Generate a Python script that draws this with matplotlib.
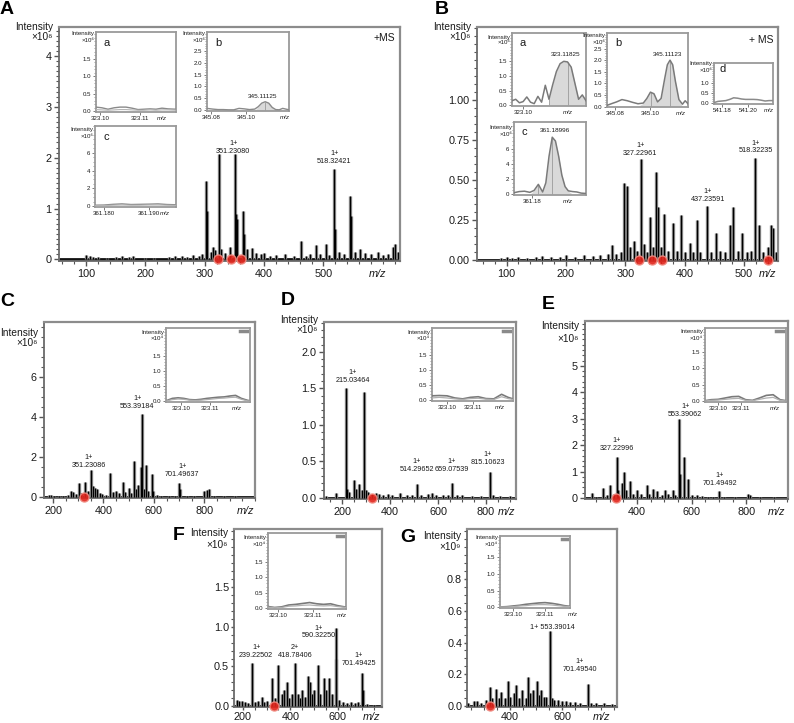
import numpy as np
import matplotlib
matplotlib.use('Agg')
import matplotlib.pyplot as plt
from matplotlib.ticker import MultipleLocator
import matplotlib.transforms as mtransforms

plt.rcParams['font.family'] = ['Liberation Sans', 'DejaVu Sans']

# ---------------- DATA ----------------
# Panel A main spectrum
A_mz = [100, 106, 112, 120, 135, 150, 160, 172, 180, 200, 215, 240, 250, 262, 270, 280, 290, 296,
        302, 304, 310, 314, 318, 324.5, 328, 335, 342.6, 351, 353, 355, 364, 366, 372, 380, 386, 395,
        400, 410, 420, 436, 450, 462, 470, 478, 487.6, 495, 504.5, 510, 518.5, 520, 527, 535, 545, 547,
        553, 562, 570, 580, 592, 600, 608, 617, 620, 625]
A_int = [0.08, 0.06, 0.05, 0.05, 0.03, 0.05, 0.06, 0.05, 0.07, 0.03, 0.03, 0.05, 0.06, 0.06, 0.05, 0.08, 0.06, 0.1,
         1.55, 0.95, 0.15, 0.25, 0.18, 2.07, 0.2, 0.12, 0.25, 2.07, 0.9, 0.8, 0.95, 0.5, 0.2, 0.22, 0.12, 0.1,
         0.12, 0.06, 0.08, 0.1, 0.06, 0.37, 0.07, 0.1, 0.28, 0.1, 0.3, 0.08, 1.78, 0.6, 0.15, 0.1, 1.25, 0.85,
         0.15, 0.2, 0.12, 0.1, 0.15, 0.08, 0.1, 0.25, 0.3, 0.15]
A_dots = [323, 345, 361]

# Panel B main spectrum
B_mz = [90, 100, 110, 120, 135, 150, 160, 175, 190, 200, 215, 230, 245, 258, 270, 277, 285, 292,
        298, 302, 308, 315, 320, 327, 331, 337, 341.6, 346, 351, 355.5, 360, 365.6, 372, 380.7, 387,
        393.7, 400, 408.8, 414, 420, 426, 437, 444, 452, 460, 468, 476, 482, 490, 497, 505, 512, 518,
        525, 532, 540, 546, 548, 553]
B_int = [0.015, 0.02, 0.015, 0.02, 0.015, 0.02, 0.025, 0.02, 0.02, 0.03, 0.02, 0.03, 0.025, 0.03, 0.04, 0.095, 0.04, 0.05,
         0.48, 0.46, 0.08, 0.12, 0.06, 0.63, 0.1, 0.05, 0.27, 0.08, 0.55, 0.33, 0.08, 0.29, 0.06, 0.23, 0.06,
         0.28, 0.05, 0.11, 0.05, 0.25, 0.05, 0.34, 0.05, 0.17, 0.06, 0.05, 0.22, 0.33, 0.06, 0.17, 0.05, 0.06, 0.64,
         0.22, 0.05, 0.08, 0.22, 0.2, 0.05]
B_dots = [323, 345, 361, 541]

# Panel C
C_mz = [185, 192, 205, 222, 240, 258, 271, 278, 290, 302, 312, 326, 338, 351, 358, 366, 376, 385, 395,
        410, 426, 436, 450, 461, 477, 486, 500, 510, 520, 530, 537, 549, 553, 560, 569, 578, 593, 597,
        612, 630, 660, 685, 701, 705, 730, 760, 800, 810, 818, 840, 880, 920, 960]
C_int = [0.12, 0.08, 0.05, 0.05, 0.06, 0.1, 0.3, 0.25, 0.15, 0.7, 0.2, 0.75, 0.3, 1.35, 0.55, 0.45, 0.4, 0.2, 0.15,
         0.1, 1.2, 0.25, 0.3, 0.2, 0.75, 0.25, 0.45, 0.2, 1.8, 0.4, 0.6, 1.5, 4.15, 0.4, 1.6, 0.3, 1.15, 0.3,
         0.08, 0.06, 0.05, 0.05, 0.7, 0.4, 0.05, 0.04, 0.3, 0.35, 0.4, 0.04, 0.03, 0.03, 0.02]

# Panel D
D_mz = [132, 174, 215, 220, 230, 250, 260, 271, 282, 292, 300, 310, 323, 340, 355, 370, 390, 410, 443,
        470, 490, 514, 530, 560, 575, 590, 620, 640, 659, 680, 700, 740, 780, 815, 830, 860, 900]
D_int = [0.02, 0.06, 1.5, 0.12, 0.08, 0.24, 0.12, 0.18, 0.1, 1.45, 0.1, 0.08, 0.05, 0.06, 0.05, 0.04, 0.05, 0.04, 0.06,
         0.04, 0.03, 0.18, 0.04, 0.05, 0.06, 0.04, 0.03, 0.03, 0.2, 0.03, 0.03, 0.02, 0.02, 0.35, 0.03, 0.02, 0.02]

# Panel E
E_mz = [234, 250, 275, 290, 301, 315, 327, 330, 344, 352, 360, 375, 385, 399, 415, 436, 445, 459, 475,
        490, 503, 515, 531, 540, 553, 556, 572, 587, 600, 620, 640, 660, 680, 701, 720, 760, 807, 815,
        850, 900]
E_int = [0.2, 0.05, 0.38, 0.1, 0.5, 0.15, 1.55, 0.3, 0.55, 1.0, 0.3, 0.65, 0.15, 0.3, 0.15, 0.5, 0.15, 0.35, 0.25,
         0.1, 0.3, 0.15, 0.3, 0.1, 3.0, 0.9, 1.55, 0.7, 0.1, 0.1, 0.06, 0.05, 0.04, 0.25, 0.04, 0.03, 0.15, 0.1,
         0.03, 0.02]

# Panel F
F_mz = [175, 185, 195, 210, 222, 239, 250, 262, 280, 290, 300, 322, 335, 350, 365, 372, 385, 395, 405,
        419, 430, 440, 450, 462, 475, 482, 490, 500, 517, 525, 541, 550, 564, 575, 590, 593, 605, 620,
        640, 655, 670, 685, 701, 705, 720, 750]
F_int = [0.08, 0.06, 0.07, 0.05, 0.04, 0.54, 0.05, 0.06, 0.12, 0.05, 0.06, 0.35, 0.1, 0.52, 0.15, 0.2, 0.3, 0.1, 0.15,
         0.55, 0.15, 0.1, 0.2, 0.12, 0.38, 0.3, 0.15, 0.2, 0.52, 0.15, 0.35, 0.2, 0.35, 0.15, 0.98, 0.6, 0.08, 0.05,
         0.04, 0.05, 0.04, 0.05, 0.42, 0.2, 0.03, 0.02]

# Panel G
G_mz = [240, 260, 272, 290, 307, 323, 330, 348, 357, 367, 380, 393, 400, 415, 422, 435, 445, 460, 470,
        478, 490, 504, 512, 520, 530, 540, 553, 560, 570, 585, 600, 615, 630, 650, 670, 701, 710, 730,
        760, 790]
G_int = [0.02, 0.03, 0.03, 0.02, 0.04, 0.12, 0.05, 0.11, 0.05, 0.09, 0.05, 0.16, 0.06, 0.08, 0.13, 0.05, 0.1, 0.05, 0.18,
         0.08, 0.1, 0.16, 0.07, 0.1, 0.06, 0.06, 0.47, 0.05, 0.04, 0.04, 0.03, 0.03, 0.025, 0.025, 0.02, 0.14, 0.02, 0.02,
         0.02, 0.015]

# Insets of A
Aa_x = [323.099, 323.1005, 323.102, 323.1035, 323.105, 323.1065, 323.108, 323.1095, 323.111, 323.1125, 323.114, 323.1155, 323.117, 323.119]
Aa_y1 = [0.12, 0.1, 0.06, 0.1, 0.12, 0.12, 0.09, 0.05, 0.06, 0.07, 0.06, 0.09, 0.07, 0.06]
Aa_y2 = [0.05, 0.04, 0.03, 0.04, 0.05, 0.05, 0.04, 0.03, 0.03, 0.04, 0.03, 0.04, 0.04, 0.03]
Ab_x = [345.0777, 345.081, 345.084, 345.087, 345.090, 345.093, 345.096, 345.099, 345.102, 345.105, 345.107, 345.109,
        345.111, 345.113, 345.115, 345.117, 345.119, 345.121, 345.1246]
Ab_y = [0.08, 0.05, 0.03, 0.03, 0.02, 0.02, 0.08, 0.06, 0.03, 0.05, 0.15, 0.3, 0.36, 0.3, 0.12, 0.03, 0.02, 0.08, 0.02]
Ac_x = [361.178, 361.180, 361.182, 361.184, 361.186, 361.188, 361.190, 361.192, 361.194, 361.196]
Ac_y1 = [0.1, 0.12, 0.2, 0.25, 0.18, 0.2, 0.22, 0.25, 0.18, 0.15]
Ac_y2 = [0.05, 0.06, 0.1, 0.12, 0.1, 0.1, 0.12, 0.12, 0.1, 0.08]

# Insets of B
Ba_x = [323.0955, 323.097, 323.0985, 323.100, 323.1015, 323.103, 323.1045, 323.106, 323.1075, 323.109, 323.1105,
        323.112, 323.1135, 323.115, 323.1165, 323.118, 323.1195, 323.121, 323.1225, 323.124, 323.1255]
Ba_y = [0.15, 0.2, 0.08, 0.12, 0.28, 0.1, 0.05, 0.3, 0.1, 0.68, 0.2, 0.7, 1.15, 1.42, 1.5, 1.48, 1.3, 0.75, 0.2, 0.35, 0.15]
Bb_x = [345.0756, 345.078, 345.081, 345.084, 345.087, 345.090, 345.093, 345.096, 345.098, 345.100, 345.102, 345.104,
        345.106, 345.108, 345.1095, 345.111, 345.1125, 345.114, 345.116, 345.118, 345.1195, 345.1211]
Bb_y = [0.05, 0.12, 0.2, 0.3, 0.25, 0.18, 0.12, 0.15, 0.35, 0.62, 0.55, 0.2, 0.35, 1.2, 1.8, 2.0, 1.8, 1.1, 0.3, 0.1, 0.25, 0.12]
Bc_x = [361.1716, 361.174, 361.1765, 361.179, 361.181, 361.183, 361.185, 361.1865, 361.188, 361.1895, 361.191,
        361.1925, 361.194, 361.1955, 361.197, 361.199, 361.201, 361.203, 361.2053]
Bc_y = [0.2, 0.35, 0.4, 0.25, 0.5, 1.3, 0.3, 1.5, 5.0, 7.5, 7.0, 5.0, 2.5, 1.0, 0.45, 0.35, 0.3, 0.15, 0.1]
Bd_x = [541.174, 541.177, 541.18, 541.183, 541.186, 541.189, 541.192, 541.195, 541.198, 541.201, 541.204, 541.207,
        541.21, 541.213, 541.216, 541.219]
Bd_y = [0.02, 0.08, 0.1, 0.12, 0.18, 0.26, 0.24, 0.2, 0.18, 0.18, 0.18, 0.17, 0.14, 0.1, 0.12, 0.12]

# Insets of C-G (m/z 323)
Ci_x = [323.0948, 323.097, 323.099, 323.101, 323.103, 323.105, 323.107, 323.109, 323.111, 323.113, 323.115, 323.117, 323.119, 323.121, 323.123, 323.124]
Ci_y1 = [0.02, 0.1, 0.12, 0.1, 0.06, 0.05, 0.07, 0.1, 0.12, 0.14, 0.15, 0.18, 0.2, 0.1, 0.04, 0.02]
Ci_y2 = [0.01, 0.06, 0.08, 0.07, 0.04, 0.03, 0.04, 0.06, 0.08, 0.1, 0.11, 0.13, 0.14, 0.07, 0.02, 0.01]
Di_x = [323.0942, 323.097, 323.100, 323.103, 323.106, 323.109, 323.112, 323.115, 323.118, 323.121, 323.1235, 323.1254]
Di_y1 = [0.15, 0.16, 0.15, 0.08, 0.05, 0.1, 0.12, 0.06, 0.05, 0.2, 0.1, 0.05]
Di_y2 = [0.08, 0.1, 0.08, 0.05, 0.03, 0.06, 0.07, 0.04, 0.03, 0.12, 0.06, 0.03]
Ei_x = [323.0943, 323.097, 323.100, 323.103, 323.106, 323.109, 323.112, 323.115, 323.118, 323.121, 323.124, 323.127, 323.1296]
Ei_y1 = [0.02, 0.05, 0.06, 0.1, 0.14, 0.15, 0.05, 0.03, 0.1, 0.18, 0.2, 0.05, 0.02]
Ei_y2 = [0.01, 0.03, 0.04, 0.06, 0.08, 0.09, 0.03, 0.02, 0.06, 0.1, 0.12, 0.03, 0.01]
Fi_x = [323.0971, 323.099, 323.101, 323.103, 323.105, 323.107, 323.109, 323.111, 323.113, 323.115, 323.117, 323.1194]
Fi_y1 = [0.05, 0.02, 0.04, 0.1, 0.12, 0.15, 0.18, 0.14, 0.12, 0.14, 0.08, 0.03]
Fi_y2 = [0.03, 0.01, 0.02, 0.06, 0.07, 0.09, 0.1, 0.08, 0.07, 0.08, 0.05, 0.02]
Gi_x = [323.0959, 323.098, 323.100, 323.102, 323.104, 323.106, 323.108, 323.110, 323.112, 323.114, 323.116, 323.1178]
Gi_y1 = [0.01, 0.02, 0.04, 0.06, 0.09, 0.11, 0.13, 0.14, 0.12, 0.09, 0.05, 0.03]
Gi_y2 = [0.01, 0.01, 0.02, 0.04, 0.05, 0.07, 0.08, 0.08, 0.07, 0.05, 0.03, 0.02]

# ---------------- FIGURE ----------------
W, H = 794, 723
fig = plt.figure(figsize=(W / 100, H / 100), dpi=100)

def px_axes(box, z):
    l, t, r, b = box
    return fig.add_axes([l / W, 1 - b / H, (r - l) / W, (b - t) / H], zorder=z)

def px_text(x, y, s, **kw):
    t = fig.text(x / W, 1 - y / H, s, **kw)
    t.set_zorder(20)

TXT = '#1a1a1a'
TICK_FS = 7.8

def main_panel(box, xlim, ylim, xticks, xminor, yticks, ylabels, yminor, mz, inten, dots, mzx,
               letter, letter_xy, ylab_y, exp, tlen=3.5, tpad=2.0):
    ax = px_axes(box, 1)
    ax.patch.set_alpha(0)
    ax.set_xlim(xlim)
    ax.set_ylim(ylim)
    ax.plot(xlim, [0, 0], color='#111111', lw=2.0, solid_capstyle='butt', zorder=2)
    ax.vlines(mz, 0, inten, color='#8c8c8c', lw=2.4, zorder=2)
    ax.vlines(mz, 0, inten, color='black', lw=0.9, zorder=3)
    if dots:
        ax.plot(dots, [0] * len(dots), 'o', color='#e2231a', ms=6.5, mec='#f08a80', mew=1.0,
                alpha=0.9, clip_on=False, zorder=6)
    ax.set_xticks(xticks)
    ax.set_xticklabels([str(v) for v in xticks])
    ax.xaxis.set_minor_locator(MultipleLocator(xminor))
    ax.set_yticks(yticks)
    ax.set_yticklabels(ylabels)
    ax.yaxis.set_minor_locator(MultipleLocator(yminor))
    ax.tick_params(which='major', direction='out', length=tlen, width=1.0, color='#555555',
                   labelsize=TICK_FS, labelcolor=TXT, pad=tpad)
    ax.tick_params(which='minor', direction='out', length=2, width=0.8, color='#555555')
    for s in ['top', 'right']:
        ax.spines[s].set_color('#8c8c8c')
        ax.spines[s].set_linewidth(1.6)
    for s in ['left', 'bottom']:
        ax.spines[s].set_color('#6a6a6a')
        ax.spines[s].set_linewidth(1.3)
    tr = ax.get_xaxis_transform() + mtransforms.ScaledTranslation(0, -(tlen + tpad) / 72, fig.dpi_scale_trans)
    ax.text(mzx, 0, 'm/z', transform=tr, ha='center', va='top', fontsize=TICK_FS, style='italic', color=TXT)
    l, t, r, b = box
    px_text(letter_xy[0], letter_xy[1], letter, fontsize=14, fontweight='bold', ha='left', va='center', color='black')
    px_text(l - 6, t + ylab_y[0], 'Intensity', fontsize=7.3, ha='right', va='center', color=TXT)
    px_text(l - 6, t + ylab_y[1], '×10' + exp, fontsize=7.3, ha='right', va='center', color=TXT)
    return ax

def inset(box, xlim, ylim, xticks, xlabels, yticks, ylabels, yminor, curves, mzx, exp, letter=None,
          fill=None, vls=None, plabel=None, legend_mark=False, lab_dy=(3, 9)):
    ax = px_axes(box, 5)
    ax.set_facecolor('white')
    ax.set_xlim(xlim)
    ax.set_ylim(ylim)
    if fill is not None:
        fx, fy, a, b = fill
        fx = np.array(fx)
        fy = np.array(fy)
        ax.fill_between(fx, 0, fy, where=(fx >= a) & (fx <= b), color='#d9d9d9', lw=0, interpolate=True, zorder=1)
    if vls is not None:
        ax.vlines(vls[0], 0, vls[1], color='#9a9a9a', lw=0.6, zorder=2)
    for cx, cy, col, lw in curves:
        ax.plot(cx, cy, color=col, lw=lw, zorder=3)
    ax.set_xticks(xticks)
    ax.set_xticklabels(xlabels)
    ax.set_yticks(yticks)
    ax.set_yticklabels(ylabels)
    ax.yaxis.set_minor_locator(MultipleLocator(yminor))
    ax.tick_params(which='major', direction='out', length=2, width=0.6, color='#666666',
                   labelsize=4.4, labelcolor=TXT, pad=1.2)
    ax.tick_params(which='minor', direction='out', length=1.2, width=0.5, color='#777777')
    for s in ax.spines.values():
        s.set_color('#9a9a9a')
        s.set_linewidth(1.3)
    tr = ax.get_xaxis_transform() + mtransforms.ScaledTranslation(0, -3.2 / 72, fig.dpi_scale_trans)
    ax.text(mzx, 0, 'm/z', transform=tr, ha='center', va='top', fontsize=4.4, style='italic', color=TXT)
    l, t, r, b = box
    px_text(l - 2, t + lab_dy[0], 'Intensity', fontsize=4.4, ha='right', va='center', color=TXT)
    px_text(l - 2, t + lab_dy[1], '×10' + exp, fontsize=4.4, ha='right', va='center', color=TXT)
    if letter:
        ax.text(0.1, 0.86, letter, transform=ax.transAxes, fontsize=8, ha='left', va='center', color=TXT)
    if plabel:
        ax.text(plabel[0], plabel[1], plabel[2], fontsize=4.6, ha='center', va='center', color=TXT)
    if legend_mark:
        ax.plot([0.88, 0.96], [0.96, 0.96], transform=ax.transAxes, color='#8a8a8a', lw=2.5, zorder=4)
    return ax

def annot(ax, x, y, charge, value, fs=5.2):
    # value line sits on (x, y); charge line just above it
    ax.text(x, y, value, ha='center', va='bottom', fontsize=fs, color=TXT, zorder=7)
    ax.annotate(charge, (x, y), xytext=(0, 5.6), textcoords='offset points',
                ha='center', va='bottom', fontsize=fs, color=TXT, zorder=7)

# ---- Panel A ----
axA = main_panel((59, 27, 400, 261), (54.5, 629), (-0.03, 4.57), [100, 200, 300, 400, 500], 20,
                 [0, 1, 2, 3, 4], ['0', '1', '2', '3', '4'], 0.1, A_mz, A_int, A_dots, 592,
                 'A', (0, 10), (0, 10), '⁸')
axA.text(0.985, 0.955, '+MS', transform=axA.transAxes, ha='right', va='center', fontsize=7.5, color=TXT)
annot(axA, 348, 2.05, '1+', '351.23080')
annot(axA, 518, 1.86, '1+', '518.32421')

inset((96, 32, 176, 112), (323.099, 323.119), (-0.02, 2.27), [323.10, 323.11], ['323.10', '323.11'],
      [0, 0.5, 1.0, 1.5], ['0.0', '0.5', '1.0', '1.5'], 0.1,
      [(Aa_x, Aa_y1, '#8a8a8a', 1.0), (Aa_x, Aa_y2, '#b5b5b5', 0.8)], 323.1155, '⁶', letter='a', lab_dy=(2, 8))
inset((207, 32, 289, 111), (345.0777, 345.1246), (-0.03, 3.29), [345.08, 345.10], ['345.08', '345.10'],
      [0, 0.5, 1.0, 1.5, 2.0, 2.5], ['0.0', '0.5', '1.0', '1.5', '2.0', '2.5'], 0.1,
      [(Ab_x, Ab_y, '#8a8a8a', 1.0)], 345.1223, '⁶', letter='b',
      fill=(Ab_x, Ab_y, 345.106, 345.117), vls=([345.111], [0.36]),
      plabel=(345.1097, 0.6, '345.11125'), lab_dy=(2, 9))
inset((95, 126, 176, 207), (361.178, 361.196), (-0.1, 9.0), [361.180, 361.190], ['361.180', '361.190'],
      [0, 2, 4, 6], ['0', '2', '4', '6'], 0.5,
      [(Ac_x, Ac_y1, '#8a8a8a', 1.0), (Ac_x, Ac_y2, '#b5b5b5', 0.8)], 361.1935, '⁶', letter='c', lab_dy=(4, 11))

# ---- Panel B ----
axB = main_panel((477, 27, 778, 261), (50.3, 557), (-0.005, 1.455), [100, 200, 300, 400, 500], 20,
                 [0, 0.25, 0.5, 0.75, 1.0], ['0.00', '0.25', '0.50', '0.75', '1.00'], 0.05,
                 B_mz, B_int, B_dots, 540, 'B', (435, 9), (0, 10), '⁸')
axB.text(0.985, 0.945, '+ MS', transform=axB.transAxes, ha='right', va='center', fontsize=7.5, color=TXT)
annot(axB, 325, 0.645, '1+', '327.22961')
annot(axB, 439, 0.36, '1+', '437.23591')
annot(axB, 520, 0.66, '1+', '518.32235')

inset((512, 33, 586, 106), (323.0955, 323.1255), (-0.03, 2.47), [323.10], ['323.10'],
      [0, 0.5, 1.0, 1.5], ['0.0', '0.5', '1.0', '1.5'], 0.1,
      [(Ba_x, Ba_y, '#7a7a7a', 1.1)], 323.1182, '⁶', letter='a',
      fill=(Ba_x, Ba_y, 323.1105, 323.1255), vls=([323.1105, 323.118], [0.2, 1.48]),
      plabel=(323.1174, 1.72, '323.11825'), lab_dy=(4, 10))
inset((607, 33, 688, 107), (345.0756, 345.1211), (-0.02, 3.17), [345.08, 345.10], ['345.08', '345.10'],
      [0, 0.5, 1.0, 1.5, 2.0, 2.5], ['0.0', '0.5', '1.0', '1.5', '2.0', '2.5'], 0.1,
      [(Bb_x, Bb_y, '#7a7a7a', 1.1)], 345.1172, '⁶', letter='b',
      fill=(Bb_x, Bb_y, 345.096, 345.117), vls=([345.1005, 345.111], [0.62, 2.0]),
      plabel=(345.1095, 2.25, '345.11123'), lab_dy=(3, 9))
inset((514, 122, 586, 195), (361.1716, 361.2053), (-0.1, 9.5), [361.18], ['361.18'],
      [0, 2, 4, 6], ['0', '2', '4', '6'], 0.5,
      [(Bc_x, Bc_y, '#7a7a7a', 1.1)], 361.197, '⁶', letter='c',
      fill=(Bc_x, Bc_y, 361.18, 361.197), vls=([361.183, 361.1895], [1.3, 7.5]),
      plabel=(361.1908, 8.4, '361.18996'), lab_dy=(6, 12))
inset((714, 63, 773, 104), (541.174, 541.219), (-0.05, 2.0), [541.18, 541.20], ['541.18', '541.20'],
      [0, 0.5, 1.0], ['0.0', '0.5', '1.0'], 0.1,
      [(Bd_x, Bd_y, '#8a8a8a', 1.1)], 541.2155, '⁶', letter='d', lab_dy=(0, 7))

# ---- Panel C ----
axC = main_panel((44, 322, 255, 498), (164, 1001), (-0.05, 8.75), [200, 400, 600, 800], 50,
                 [0, 2, 4, 6], ['0', '2', '4', '6'], 0.5, C_mz, C_int, [323], 963,
                 'C', (0, 301), (11, 21), '⁸')
annot(axC, 341, 1.42, '1+', '351.23086')
annot(axC, 534, 4.35, '1+', '553.39184')
annot(axC, 712, 0.95, '1+', '701.49637')
inset((166, 328, 250, 402), (323.0948, 323.124), (-0.02, 2.45), [323.10, 323.11], ['323.10', '323.11'],
      [0, 0.5, 1.0, 1.5], ['0.0', '0.5', '1.0', '1.5'], 0.1,
      [(Ci_x, Ci_y1, '#7a7a7a', 1.2), (Ci_x, Ci_y2, '#b0b0b0', 0.9)], 323.1195, '⁴', legend_mark=True, lab_dy=(5, 11))

# ---- Panel D ----
axD = main_panel((324, 322, 516, 499), (125, 925), (-0.02, 2.41), [200, 400, 600, 800], 50,
                 [0, 0.5, 1.0, 1.5, 2.0], ['0.0', '0.5', '1.0', '1.5', '2.0'], 0.1, D_mz, D_int, [323], 886,
                 'D', (281, 300), (-2, 8), '⁸')
annot(axD, 246, 1.56, '1+', '215.03464')
annot(axD, 512, 0.34, '1+', '514.29652')
annot(axD, 658, 0.34, '1+', '659.07539')
annot(axD, 808, 0.435, '1+', '815.10623')
inset((432, 328, 513, 401), (323.0942, 323.1254), (-0.02, 2.38), [323.10, 323.11], ['323.10', '323.11'],
      [0, 0.5, 1.0, 1.5], ['0.0', '0.5', '1.0', '1.5'], 0.1,
      [(Di_x, Di_y1, '#7a7a7a', 1.2), (Di_x, Di_y2, '#b0b0b0', 0.9)], 323.1204, '⁴', legend_mark=True, lab_dy=(5, 11))

# ---- Panel E ----
axE = main_panel((585, 321, 788, 499), (210, 953), (-0.04, 6.7), [400, 600, 800], 50,
                 [0, 1, 2, 3, 4, 5], ['0', '1', '2', '3', '4', '5'], 0.2, E_mz, E_int, [323], 912,
                 'E', (542, 304), (5, 18), '⁸')
annot(axE, 577, 3.02, '1+', '553.39062')
annot(axE, 327, 1.74, '1+', '327.22996')
annot(axE, 704, 0.42, '1+', '701.49492')
inset((705, 328, 786, 402), (323.0943, 323.1296), (-0.02, 2.22), [323.10, 323.11], ['323.10', '323.11'],
      [0, 0.5, 1.0, 1.5], ['0.0', '0.5', '1.0', '1.5'], 0.1,
      [(Ei_x, Ei_y1, '#7a7a7a', 1.2), (Ei_x, Ei_y2, '#b0b0b0', 0.9)], 323.1248, '⁴', legend_mark=True, lab_dy=(4, 10))

# ---- Panel F ----
axF = main_panel((234, 529, 382, 707), (163, 785), (-0.01, 2.23), [200, 400, 600], 50,
                 [0, 0.5, 1.0, 1.5], ['0.0', '0.5', '1.0', '1.5'], 0.1, F_mz, F_int, [330], 742,
                 'F', (173, 535), (4, 16), '⁸', tlen=2.5, tpad=1.0)
annot(axF, 256, 0.6, '1+', '239.22502')
annot(axF, 420, 0.6, '2+', '418.78406')
annot(axF, 520, 0.84, '1+', '590.32250')
annot(axF, 688, 0.49, '1+', '701.49425')
inset((268, 533, 346, 609), (323.0971, 323.1194), (-0.03, 2.44), [323.10, 323.11], ['323.10', '323.11'],
      [0, 0.5, 1.0, 1.5], ['0.0', '0.5', '1.0', '1.5'], 0.1,
      [(Fi_x, Fi_y1, '#7a7a7a', 1.2), (Fi_x, Fi_y2, '#b0b0b0', 0.9)], 323.1182, '⁴', legend_mark=True, lab_dy=(5, 11))

# ---- Panel G ----
axG = main_panel((467, 529, 617, 707), (235, 811), (-0.006, 1.115), [400, 600], 50,
                 [0, 0.2, 0.4, 0.6, 0.8], ['0.0', '0.2', '0.4', '0.6', '0.8'], 0.05, G_mz, G_int, [323], 752,
                 'G', (400, 537), (7, 18), '⁹', tlen=2.5, tpad=1.0)
axG.text(564, 0.475, '1+ 553.39014', ha='center', va='bottom', fontsize=5.2, color=TXT, zorder=7)
annot(axG, 668, 0.21, '1+', '701.49540')
inset((500, 536, 570, 608), (323.0959, 323.1178), (-0.02, 2.12), [323.10, 323.11], ['323.10', '323.11'],
      [0, 0.5, 1.0, 1.5], ['0.0', '0.5', '1.0', '1.5'], 0.1,
      [(Gi_x, Gi_y1, '#7a7a7a', 1.2), (Gi_x, Gi_y2, '#b0b0b0', 0.9)], 323.1188, '⁴', legend_mark=True, lab_dy=(2, 9))

fig.savefig('out.png', dpi=100)
